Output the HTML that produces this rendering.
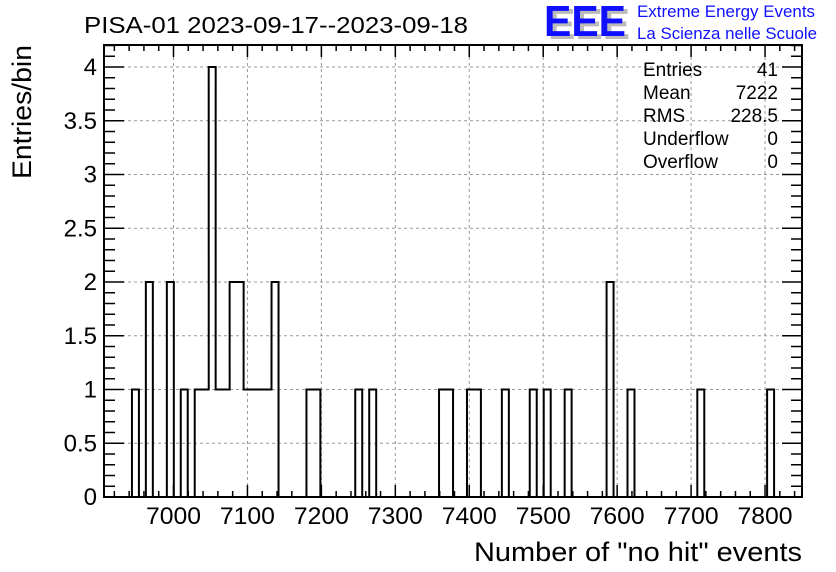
<!DOCTYPE html>
<html><head><meta charset="utf-8"><style>
body{margin:0;background:#fff;}
svg{display:block;font-family:"Liberation Sans",Arial,sans-serif;}
</style></head><body>
<svg id="chart" width="836" height="572" viewBox="0 0 836 572">
<rect x="0" y="0" width="836" height="572" fill="#fff"/>
<text x="84" y="33" font-size="23" fill="#000" textLength="384" lengthAdjust="spacingAndGlyphs">PISA-01 2023-09-17--2023-09-18</text>
<g>
<text x="548" y="39" font-size="44" font-weight="bold" fill="#bbb" textLength="82" lengthAdjust="spacingAndGlyphs">EEE</text>
<text x="544" y="36" font-size="44" font-weight="bold" fill="#1010ff" textLength="82" lengthAdjust="spacingAndGlyphs">EEE</text>
<text x="637" y="17" font-size="17" fill="#1010ff" textLength="178" lengthAdjust="spacingAndGlyphs">Extreme Energy Events</text>
<text x="637" y="39" font-size="17" fill="#1010ff" textLength="180" lengthAdjust="spacingAndGlyphs">La Scienza nelle Scuole</text>
</g>
<g id="grid"></g>
<g id="hist"></g>
<g id="axes"></g>
<g font-size="19" fill="#000">
<text x="643" y="76">Entries</text><text x="778" y="76" text-anchor="end">41</text>
<text x="643" y="99">Mean</text><text x="778" y="99" text-anchor="end">7222</text>
<text x="643" y="122">RMS</text><text x="778" y="122" text-anchor="end">228.5</text>
<text x="643" y="145">Underflow</text><text x="778" y="145" text-anchor="end">0</text>
<text x="643" y="168">Overflow</text><text x="778" y="168" text-anchor="end">0</text>
</g>
<text transform="translate(31,112) rotate(-90)" text-anchor="middle" font-size="27" textLength="134" lengthAdjust="spacingAndGlyphs">Entries/bin</text>
<text x="802" y="561" text-anchor="end" font-size="27" textLength="328" lengthAdjust="spacingAndGlyphs">Number of "no hit" events</text>
</svg>
<script>
const binLows=[6943.8,6962.6,6991,7009.8,7028.7,7038.2,7047.6,7057,7066.5,7075.9,7085.4,7094.8,7104.2,7113.7,7123.1,7132.6,7179.8,7189.2,7245.8,7264.7,7359.1,7368.6,7396.9,7406.3,7444.1,7481.8,7500.7,7529,7585.7,7614,7708.4,7802.8];
const counts=[1,2,2,1,1,1,4,1,1,2,2,1,1,1,1,2,1,1,1,1,1,1,1,1,1,1,1,1,2,1,1,1];
const xTickLabels=[7000,7100,7200,7300,7400,7500,7600,7700,7800];
const yTickLabels=[0,0.5,1,1.5,2,2.5,3,3.5,4];
const binWidth=9.44;
const X0=6906,X1=7850,Y0=0,Y1=4.2;
const L=104,R=802,T=45,B=497;
const yTop4=67;
const sx=v=>L+(v-X0)/(X1-X0)*(R-L);
const sy=v=>B-(v-Y0)/4*(B-yTop4);
const NS='http://www.w3.org/2000/svg';
function mk(tag,attrs,parent){const e=document.createElementNS(NS,tag);for(const k in attrs)e.setAttribute(k,attrs[k]);parent.appendChild(e);return e;}
const grid=document.getElementById('grid'),hist=document.getElementById('hist'),axes=document.getElementById('axes');
xTickLabels.forEach(v=>{const l=mk('line',{x1:sx(v),x2:sx(v),y1:T,y2:B,stroke:'#999','stroke-dasharray':'3,3','stroke-width':1},grid);

});
yTickLabels.slice(1).forEach(v=>{const l=mk('line',{x1:L,x2:R,y1:sy(v),y2:sy(v),stroke:'#999','stroke-dasharray':'3,3','stroke-width':1},grid);

});
let d='';let prevEnd=null;
binLows.forEach((lo,i)=>{const x0=sx(lo),x1=sx(lo+binWidth),y=sy(counts[i]);
if(prevEnd!==null&&Math.abs(prevEnd.x-x0)<1.5){d+=`L${x0},${y}L${x1},${y}`;}
else{if(prevEnd!==null)d+=`L${prevEnd.x},${B}`;d+=`M${x0},${B}L${x0},${y}L${x1},${y}`;}
prevEnd={x:x1};});
d+=`L${prevEnd.x},${B}`;
const p=mk('path',{d:d,fill:'none',stroke:'#000','stroke-width':2},hist);


binLows.forEach((lo,i)=>{const r=mk('rect',{x:sx(lo),y:sy(counts[i]),width:sx(lo+binWidth)-sx(lo),height:B-sy(counts[i]),fill:'none',stroke:'none'},hist);

});
const f=mk('rect',{x:L,y:T,width:R-L,height:B-T,fill:'none',stroke:'#000','stroke-width':2},axes);


for(let v=6920;v<=X1;v+=20){const x=sx(v);const maj=v%100===0;const len=maj?12:6;
mk('line',{x1:x,x2:x,y1:B,y2:B-len,stroke:'#000','stroke-width':1.5},axes);
mk('line',{x1:x,x2:x,y1:T,y2:T+len,stroke:'#000','stroke-width':1.5},axes);}
xTickLabels.forEach(v=>{const t=mk('text',{x:sx(v),y:524,'text-anchor':'middle','font-size':24,textLength:55,lengthAdjust:'spacingAndGlyphs'},axes);t.textContent=v;

});
for(let i=0;i<=42;i++){const v=i*0.1;const y=sy(v);const maj=i%5===0;const len=maj?20:11;
mk('line',{x1:L,x2:L+len,y1:y,y2:y,stroke:'#000','stroke-width':1.5},axes);
mk('line',{x1:R,x2:R-len,y1:y,y2:y,stroke:'#000','stroke-width':1.5},axes);}
yTickLabels.forEach(v=>{const t=mk('text',{x:97,y:sy(v)+8,'text-anchor':'end','font-size':24},axes);t.textContent=v;

});
</script>
</body></html>
